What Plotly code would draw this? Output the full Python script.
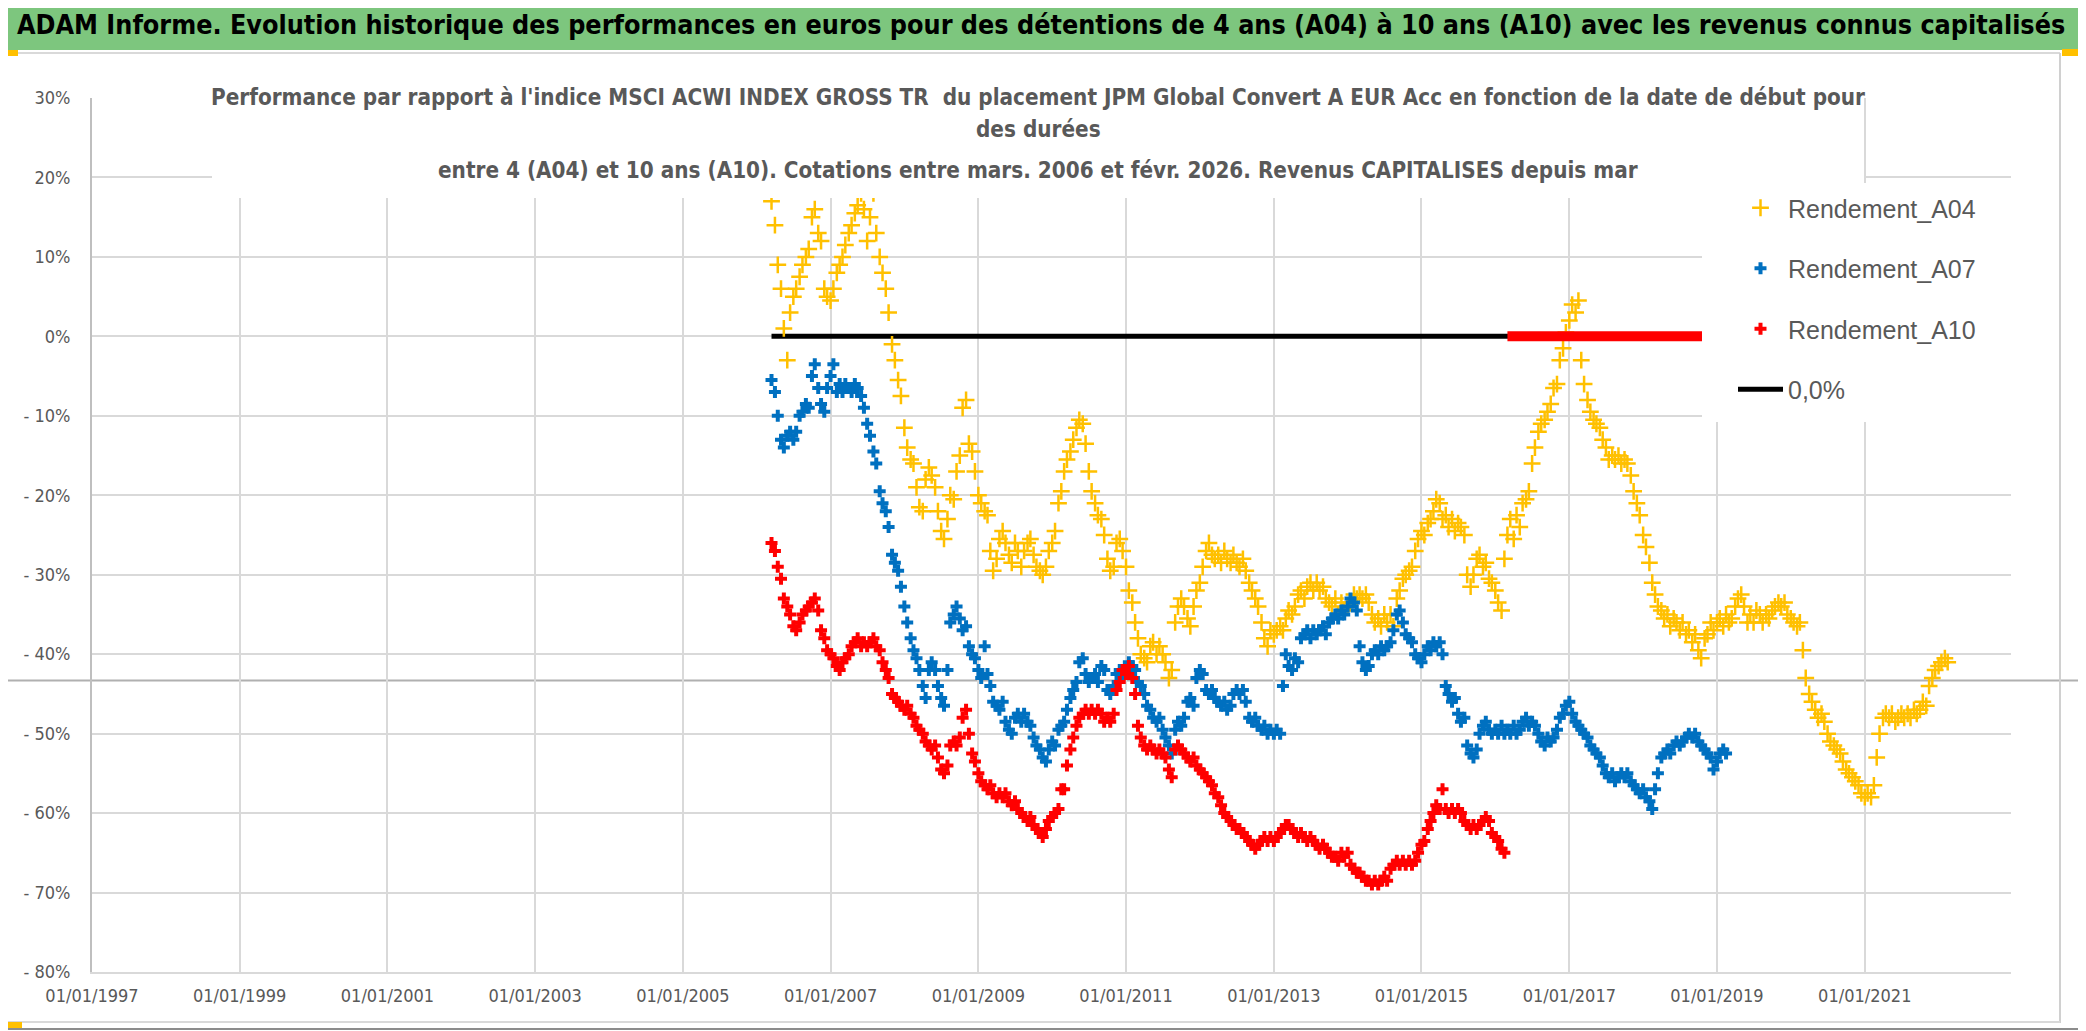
import plotly.graph_objects as go
import pandas as pd

# ---------------- text ----------------
TITLE = ("ADAM Informe. Evolution historique des performances en euros pour des détentions "
         "de 4 ans (A04) à 10 ans (A10) avec les revenus connus capitalisés")
SUB1 = ("Performance par rapport à l'indice MSCI ACWI INDEX GROSS TR  du placement JPM Global "
        "Convert A EUR Acc en fonction de la date de début pour")
SUB2 = "des durées"
SUB3 = ("entre 4 (A04) et 10 ans (A10). Cotations entre mars. 2006 et févr. 2026. "
        "Revenus CAPITALISES depuis mar")

# ---------------- data (relative performance, %) ----------------
# start dates sampled on the 1st and 15th of each month, first one 2006-03-15
START = "2006-03-15"

A04 = [
    17, 14, 9, 6, 1, -3, 3, 5, 6, 7.5, 9, 10, 11, 15, 16, 13, 12, 6, 5,                       # 2006
    4.5, 6, 8, 9, 10, 11.5, 13, 14, 15.5, 16.5, 18, 16, 12, 15, 18, 13, 10, 8, 6, 3, -1, -3, -5.5, -7.5,  # 2007
    -11.5, -14, -15.5, -16, -19, -21.5, -22, -18, -16.5, -17.5, -19, -22, -24.5, -25.5, -23, -20, -20.5, -17, -15, -9, -8, -13.5, -14.5, -17,  # 2008
    -20, -21, -22, -22.5, -27, -29.5, -28, -25.5, -24.5, -26, -27.5, -28.5, -26, -27, -29, -27, -26, -25.5, -27.5, -29, -29.5, -30, -29, -27,  # 2009
    -26, -24.5, -21, -19.5, -17, -15.5, -14.5, -13, -11.5, -10.5, -11, -13.5, -17, -19.5, -21, -22.5, -23, -25, -28, -29.5, -29, -26, -25.5, -27,  # 2010
    -29, -32, -33.5, -36, -38, -40, -40.5, -41, -39, -38.5, -40, -39, -40, -41, -43, -42, -36, -34, -33, -34, -35.5, -36.5, -34, -32,  # 2011
    -31, -29, -27, -26, -27.5, -28, -27.5, -28.5, -27, -28, -28.5, -27.5, -28.5, -29, -28, -29.5, -31, -32, -33, -34, -36, -38, -39, -37,  # 2012
    -37.5, -37, -36.5, -37, -35.5, -34.5, -35, -34, -32.5, -32, -33, -31.5, -31, -32, -31, -32, -31.5, -33, -33.5, -34, -33, -35, -33.5, -34.5,  # 2013
    -34, -33.5, -32.5, -33, -32.5, -33, -32.5, -33.5, -35, -36, -35.5, -36.5, -35, -36, -35, -36.5, -33, -32, -30.5, -30, -29.5, -29, -27, -25.5,  # 2014
    -24.5, -25, -23.5, -23, -22, -20.5, -21, -23, -22.5, -24, -23, -24.5, -23.5, -24, -25, -30, -31.5, -30, -28, -27.5, -29, -28.5, -30.5, -31,  # 2015
    -32, -33.5, -34.5, -28, -25, -23, -25.5, -22.5, -24, -21, -20.5, -19.5, -16, -14, -12, -11, -10.5, -9.5, -8.5, -6.5, -6, -3, -1.5, 0.5,  # 2016
    2, 4, 3, 4.5, -3, -6, -8, -9.5, -10.5, -11, -11.5, -13, -14, -15.5, -15, -15.5, -15, -16, -15.5, -16, -17.5, -19.5, -21, -22.5,  # 2017
    -25, -26.5, -28.5, -31, -32.5, -34, -34.5, -35.5, -35, -36.5, -35.5, -36, -37, -36, -37.5, -37, -38.5, -37.5, -39.5, -40.5, -38, -37.5, -36, -37,  # 2018
    -36, -35.5, -36.5, -35, -36, -35.5, -34, -33, -32.5, -34, -36, -35, -36, -34.5, -35, -36, -35, -35.5, -34.5, -34, -33.5, -34, -33.5, -35,  # 2019
    -35.5, -36, -36.5, -36, -39.5, -43, -45, -46, -47, -48, -47.5, -48.5, -50, -51, -51.5, -52, -52.5, -53.5, -54.5, -55, -55.5, -56, -56.5, -57.5,  # 2020
    -58, -57.5, -58, -56.5, -53, -50, -48, -47.5, -48, -47.5, -48.5, -48, -47.5, -48, -47.5, -48, -47, -47.5, -47, -46, -46.5, -44, -43, -42,  # 2021
    -41.5, -41, -40.5, -41,  # 2022
]

A07 = [
    -5.5, -7, -10, -13, -14, -12.5, -12, -13, -12, -10, -9.5, -8.5, -9, -5, -3.5, -6.5, -8.5, -9.5, -6.5,  # 2006
    -5, -3.5, -7, -6, -7, -6, -6.5, -7, -6, -6.5, -7.5, -9, -11, -12.5, -14.5, -16, -19.5, -21, -22, -24, -27.5, -28.5, -29.5, -31.5,  # 2007
    -34, -36, -38, -39.5, -40.5, -42, -44, -45.5, -42, -41, -42, -44, -45.5, -46.5, -42, -36, -35, -34, -35.5, -37, -36.5, -39, -40, -40.5,  # 2008
    -42, -43, -39, -42.5, -44, -46, -46.5, -47, -46, -48.5, -49.5, -50, -48, -47.5, -48.5, -47.5, -48.5, -49, -50.5, -51.5, -52, -53, -53.5, -52,  # 2009
    -51, -51.5, -49.5, -49, -48.5, -47, -45.5, -44.5, -43.5, -41, -40.5, -42.5, -43.5, -43, -42.5, -43.5, -41.5, -42, -44.5, -45, -44, -42.5, -42, -43,  # 2010
    -42.5, -41, -41.5, -42, -43.5, -44, -45, -46.5, -47, -48, -48.5, -48, -49.5, -50.5, -51.5, -52.5, -49.5, -48.5, -49, -48, -46, -45.5, -46.5, -43,  # 2011
    -42, -42.5, -44.5, -45, -44.5, -45.5, -46, -46.5, -46, -47, -46.5, -45, -44.5, -45, -44.5, -46, -48, -48.5, -48, -49, -49.5, -49, -50, -49.5,  # 2012
    -50, -49.5, -50, -44, -40, -41.5, -42, -40.5, -41, -38, -37.5, -37, -38, -37, -37.5, -37, -36.5, -37.5, -36, -35.5, -35, -35.5, -34.5, -35,  # 2013
    -34, -33, -33.5, -34.5, -39, -41, -42, -41.5, -40, -39.5, -40, -39, -39.5, -39, -38.5, -37, -35, -34.5, -36, -37.5, -38, -38.5, -40, -40.5,  # 2014
    -41, -40, -39, -39.5, -38.5, -39, -38.5, -40, -44, -45, -46, -45.5, -47.5, -48.5, -48, -51.5, -52.5, -53, -52, -50, -49, -48.5, -49.5, -50,  # 2015
    -49.5, -50, -49, -50, -49.5, -50, -49, -50, -49.5, -48.5, -48, -49, -48.5, -49, -50, -51, -51.5, -50.5, -51, -50.5, -49.5, -48, -47.5, -46.5,  # 2016
    -46, -47.5, -48.5, -49, -49.5, -50, -50.5, -51.5, -52, -52.5, -53, -54, -55, -55.5, -55, -56, -55.5, -55, -55.5, -55, -56, -56.5, -57, -57.5,  # 2017
    -57, -58, -58.5, -59.5, -57, -55, -53, -52.5, -52, -52.5, -51.5, -51, -51.5, -51, -50.5, -50, -50.5, -50, -51, -51.5, -52, -52.5, -53, -54.5,  # 2018
    -53.5, -52.5, -52, -52.5,  # 2019
]

A10 = [
    -26, -27, -29, -30.5, -33, -34, -35, -36.5, -37, -36, -35, -34.5, -34, -33.5, -33, -34.5, -37, -38, -39.5,  # 2006
    -40, -40.5, -41.5, -42, -41, -40.5, -40, -39, -38.5, -38, -39, -38.5, -39, -38.5, -38, -39, -39.5, -41, -42, -43, -45, -45.5, -46, -46.5,  # 2007
    -47, -46.5, -47.5, -48, -49, -49.5, -50, -51, -51.5, -52, -51.5, -53, -54.5, -55, -54, -51.5, -51, -51.5, -50.5, -48, -47, -50, -52.5, -53.5,  # 2008
    -55, -56, -56.5, -57, -56.5, -57.5, -58, -57.5, -58, -57.5, -58.5, -59, -58.5, -59.5, -60, -60.5, -61, -60.5, -61.5, -62, -62.5, -63, -62, -61,  # 2009
    -60.5, -60, -59.5, -57, -57, -54, -52, -50.5, -49, -48, -47.5, -47, -47.5, -47, -47.5, -47, -47.5, -48.5, -48, -48.5, -47.5, -44.5, -43.5, -42,  # 2010
    -42.5, -41.5, -43, -45, -49, -50.5, -51.5, -52, -51.5, -52, -52.5, -52, -52.5, -53, -54.5, -55.5, -52, -51.5, -52, -52.5, -53, -53.5, -53, -54,  # 2011
    -54.5, -55, -55.5, -56, -56.5, -57.5, -58, -59, -60, -60.5, -61, -61.5, -62, -62, -62.5, -63, -63.5, -64, -64.5, -64, -63.5, -63, -63.5, -63,  # 2012
    -63.5, -63, -62.5, -62, -61.5, -61.5, -62, -62.5, -63, -62.5, -63, -63.5, -63, -63.5, -64, -64.5, -64, -64.5, -65, -65.5, -65.5, -66, -65, -65.5,  # 2013
    -65, -66.5, -67, -67.5, -67.5, -68, -68.5, -68.5, -69, -68.5, -69, -68.5, -68, -68.5, -67, -66.5, -66, -66.5, -66, -66.5, -66, -66.5, -66, -65,  # 2014
    -64, -63.5, -62, -61, -60, -59, -59.5, -57, -59.5, -60, -59.5, -60, -59.5, -60, -61, -61.5, -62, -61.5, -62, -61.5, -61, -60.5, -61, -62.5,  # 2015
    -63, -63.5, -64.5, -65,  # 2016
]
# A10 has no 10-year window after Feb 2016: plotted as 0
A10_ZERO_DATES = ["2016-03-01", "2026-02-15"]
A10_ZERO_VALS = [0, 0]

# reference line 0,0%
ZERO_DATES = ["2006-03-15", "2026-02-15"]
ZERO_VALS = [0, 0]

Y_TICKS = [30, 20, 10, 0, -10, -20, -30, -40, -50, -60, -70, -80]
Y_TEXT = ["30%", "20%", "10%", "0%", "- 10%", "- 20%", "- 30%", "- 40%",
          "- 50%", "- 60%", "- 70%", "- 80%"]
X_RANGE = ["1997-01-01", "2022-12-25"]
ARTEFACT_LEVEL = -43.3  # stray grey horizontal line of the original sheet

d04 = pd.date_range(START, periods=len(A04), freq="SMS")
d07 = pd.date_range(START, periods=len(A07), freq="SMS")
d10 = pd.date_range(START, periods=len(A10), freq="SMS")

# ---------------- layout geometry (screen pixels) ----------------
SCREEN_W, SCREEN_H = 2086, 1031
OFF = 8                       # page body margin
W, H = SCREEN_W - OFF, SCREEN_H - OFF
PLOT_X0, PLOT_X1, PLOT_Y0, PLOT_Y1 = 92, 2011, 98, 972
L, T = PLOT_X0 - OFF, PLOT_Y0 - OFF
R, B = OFF + W - PLOT_X1, OFF + H - PLOT_Y1
PW, PH = PLOT_X1 - PLOT_X0, PLOT_Y1 - PLOT_Y0


def px(x):
    return (x - PLOT_X0) / PW


def py(y):
    return (PLOT_Y1 - y) / PH


FONT = "DejaVu Sans Condensed, Liberation Sans Narrow, sans-serif"
LEG_FONT = "Liberation Sans, Arial, sans-serif"
GREY_TXT = "#595959"
YELLOW, BLUE, RED = "#FFC000", "#0070C0", "#FF0000"

fig = go.Figure()

fig.add_trace(go.Scatter(
    x=ZERO_DATES, y=ZERO_VALS, mode="lines", name="0,0%",
    line=dict(color="black", width=5), legendgroup="g4", legendrank=4))
fig.add_trace(go.Scatter(
    x=d04, y=A04, mode="markers", name="Rendement_A04",
    marker=dict(symbol="cross-thin", size=12, color=YELLOW, line=dict(color=YELLOW, width=2.5)),
    legendgroup="g1", legendrank=1))
fig.add_trace(go.Scatter(
    x=d07, y=A07, mode="markers", name="Rendement_A07",
    marker=dict(symbol="cross", size=10, color=BLUE, line=dict(width=0)),
    legendgroup="g2", legendrank=2))
fig.add_trace(go.Scatter(
    x=d10, y=A10, mode="markers", name="Rendement_A10",
    marker=dict(symbol="cross", size=10, color=RED, line=dict(width=0)),
    legendgroup="g3", legendrank=3))
fig.add_trace(go.Scatter(
    x=A10_ZERO_DATES, y=A10_ZERO_VALS, mode="lines", showlegend=False,
    line=dict(color=RED, width=10), legendgroup="g3"))

shapes = [
    # green header band
    dict(type="rect", xref="paper", yref="paper", x0=px(0), x1=px(SCREEN_W), y0=py(50), y1=py(0),
         fillcolor="#7DC67E", line=dict(width=0), layer="above"),
    # chart frame
    dict(type="line", xref="paper", yref="paper", x0=px(0), x1=px(2060), y0=py(53), y1=py(53),
         line=dict(color="#d9d9d9", width=2), layer="above"),
    dict(type="line", xref="paper", yref="paper", x0=px(2060), x1=px(2060), y0=py(53), y1=py(1023),
         line=dict(color="#d0d0d0", width=2), layer="above"),
    dict(type="line", xref="paper", yref="paper", x0=px(0), x1=px(2060), y0=py(1022), y1=py(1022),
         line=dict(color="#d9d9d9", width=2), layer="above"),
    dict(type="line", xref="paper", yref="paper", x0=px(0), x1=px(SCREEN_W), y0=py(1029), y1=py(1029),
         line=dict(color="#8c8c8c", width=2), layer="above"),
    # stray grey line
    dict(type="line", xref="paper", yref="y", x0=px(0), x1=px(SCREEN_W), y0=ARTEFACT_LEVEL,
         y1=ARTEFACT_LEVEL, line=dict(color="#b0b0b0", width=2), layer="between"),
    # white box of the chart title
    dict(type="rect", xref="paper", yref="paper", x0=px(212), x1=px(1864), y0=py(198), y1=py(56),
         fillcolor="white", line=dict(width=0), layer="above"),
    # white box of the legend
    dict(type="rect", xref="paper", yref="paper", x0=px(1702), x1=px(2013), y0=py(422), y1=py(183),
         fillcolor="white", line=dict(width=0), layer="above"),
    # selection handles
    dict(type="rect", xref="paper", yref="paper", x0=px(0), x1=px(18), y0=py(56), y1=py(50),
         fillcolor=YELLOW, line=dict(width=0), layer="above"),
    dict(type="rect", xref="paper", yref="paper", x0=px(2062), x1=px(SCREEN_W), y0=py(56), y1=py(49),
         fillcolor=YELLOW, line=dict(width=0), layer="above"),
    dict(type="rect", xref="paper", yref="paper", x0=px(2079), x1=px(SCREEN_W), y0=py(1031), y1=py(970),
         fillcolor=YELLOW, line=dict(width=0), layer="above"),
    dict(type="rect", xref="paper", yref="paper", x0=px(0), x1=px(22), y0=py(1028), y1=py(1022),
         fillcolor=YELLOW, line=dict(width=0), layer="above"),
]

annotations = [
    dict(text=f"<b>{TITLE}</b>", xref="paper", yref="paper", x=px(1041), y=py(25),
         xanchor="center", yanchor="middle", showarrow=False,
         font=dict(family=FONT, size=26.7, color="black")),
    dict(text=f"<b>{SUB1}</b>", xref="paper", yref="paper", x=px(1038), y=py(97),
         xanchor="center", yanchor="middle", showarrow=False,
         font=dict(family=FONT, size=22.3, color=GREY_TXT)),
    dict(text=f"<b>{SUB2}</b>", xref="paper", yref="paper", x=px(1038), y=py(129),
         xanchor="center", yanchor="middle", showarrow=False,
         font=dict(family=FONT, size=22.3, color=GREY_TXT)),
    dict(text=f"<b>{SUB3}</b>", xref="paper", yref="paper", x=px(1038), y=py(170),
         xanchor="center", yanchor="middle", showarrow=False,
         font=dict(family=FONT, size=22.3, color=GREY_TXT)),
]

fig.update_layout(
    width=W, height=H, autosize=False,
    margin=dict(l=L, r=R, t=T, b=B, pad=0),
    paper_bgcolor="white", plot_bgcolor="white",
    shapes=shapes, annotations=annotations,
    showlegend=True,
    legend=dict(x=px(1733), y=py(185), xanchor="left", yanchor="top",
                bgcolor="rgba(255,255,255,0)", borderwidth=0,
                font=dict(family=LEG_FONT, size=25, color=GREY_TXT),
                tracegroupgap=25, itemwidth=45),
    xaxis=dict(type="date", range=X_RANGE, tick0="1997-01-01", dtick="M24",
               tickformat="%d/%m/%Y", showgrid=True, gridcolor="#d9d9d9", gridwidth=1.5,
               showline=True, linecolor="#d9d9d9", linewidth=2, zeroline=False, ticks="",
               ticklabelstandoff=6,
               tickfont=dict(family=FONT, size=18, color=GREY_TXT)),
    yaxis=dict(range=[-80, 30], tickvals=Y_TICKS, ticktext=Y_TEXT,
               showgrid=True, gridcolor="#d9d9d9", gridwidth=1.5,
               showline=True, linecolor="#bfbfbf", linewidth=2, zeroline=False, ticks="",
               ticklabelstandoff=16,
               tickfont=dict(family=FONT, size=18, color=GREY_TXT)),
)

fig.write_html("out.html")
